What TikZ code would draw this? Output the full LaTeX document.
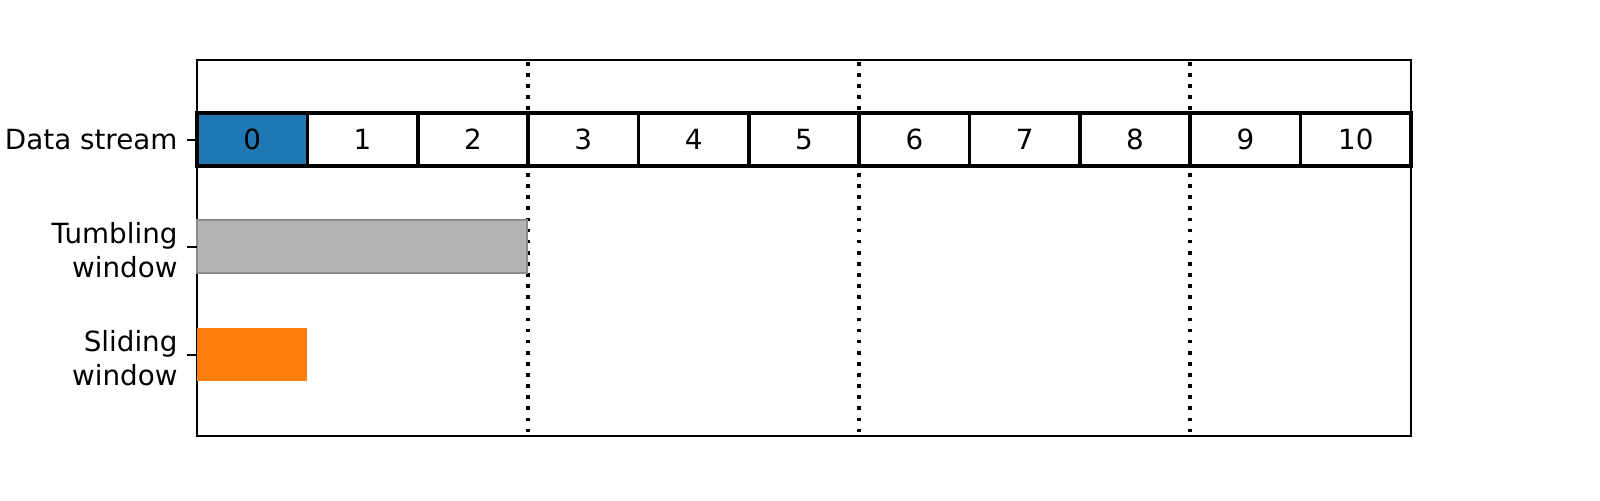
\documentclass[tikz,border=0pt]{standalone}
\usepackage{fontspec}
\setmainfont{DejaVu Sans}
\definecolor{mplblue}{HTML}{1F77B4}
\definecolor{mplorange}{HTML}{FF7F0E}
\definecolor{barfill}{HTML}{B3B3B3}
\definecolor{baredge}{HTML}{8C8C8C}
\begin{document}
\begin{tikzpicture}[x=0.36pt,y=-0.36pt,
  cell/.style={draw=black,line width=1.3pt,fill=white,minimum width=39.73pt,minimum height=19.08pt,inner sep=0pt,outer sep=0pt,font=\fontsize{10}{12}\selectfont},
  ylab/.style={anchor=east,align=right,inner sep=0pt,font=\fontsize{10}{12}\selectfont},
  sep/.style={line width=1.3pt,dash pattern=on 1.3pt off 2.7pt},
  tick/.style={line width=0.8pt}]
\useasboundingbox (0,0) rectangle (1600,500);
% frame
\draw[line width=0.8pt] (197,60) rectangle (1411,436);
% separators
\foreach \k in {3,6,9}{
  \draw[sep] ({197+110.36*\k},62) -- ({197+110.36*\k},436);
}
% tumbling / sliding bars
\node[fill=barfill,draw=baredge,line width=0.8pt,minimum width=118.8pt,minimum height=19.08pt,inner sep=0pt,outer sep=0pt,anchor=north west] (tumble) at (197,220) {};
\node[fill=mplorange,minimum width=39.73pt,minimum height=19.08pt,inner sep=0pt,outer sep=0pt,anchor=north west] (slide) at (197,328) {};
% cells
\foreach \i in {0,...,10}{
  \ifnum\i=0
    \node[cell,fill=mplblue] (c\i) at ({197+110.36*(\i+0.5)},139.5) {\i};
  \else
    \node[cell] (c\i) at ({197+110.36*(\i+0.5)},139.5) {\i};
  \fi
}
% ticks
\coordinate (t1) at (187,140); \coordinate (a1) at (197,140);
\coordinate (t2) at (187,247); \coordinate (a2) at (197,247);
\coordinate (t3) at (187,355); \coordinate (a3) at (197,355);
\draw[tick] (t1) -- (a1);
\draw[tick] (t2) -- (a2);
\draw[tick] (t3) -- (a3);
% labels
\node[ylab] (l1) at (178,140) {Data stream};
\node[ylab] (l2) at (178,250) {Tumbling\\window};
\node[ylab] (l3) at (178,358) {Sliding\\window};
\end{tikzpicture}
\end{document}
